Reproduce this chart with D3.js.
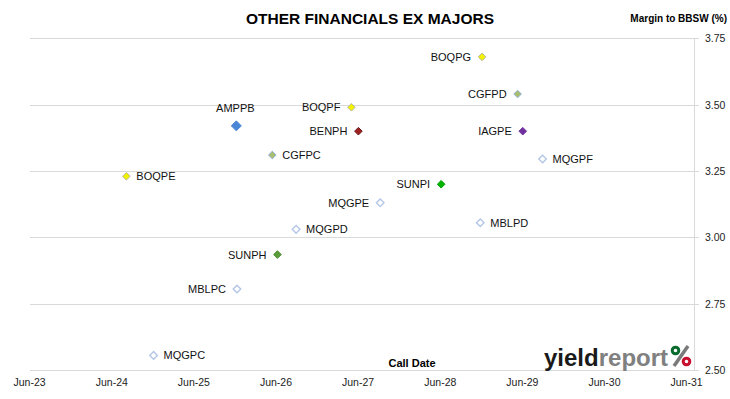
<!DOCTYPE html>
<html>
<head>
<meta charset="utf-8">
<script src="https://cdn.jsdelivr.net/npm/d3@7"></script>
<style>
  html, body { margin: 0; padding: 0; background: #fff; }
  svg { display: block; }
  text { font-family: "Liberation Sans", Arial, sans-serif; }
</style>
</head>
<body>
<svg id="chart" width="730" height="399"></svg>
<script>
// ---- data ----
const securities = ["AMPPB","BOQPE","BOQPF","BOQPG","BENPH","CGFPC","CGFPD","IAGPE","MQGPF","SUNPI","MQGPE","MBLPD","MQGPD","SUNPH","MBLPC","MQGPC"];
const callDates  = ["2025-12-09","2024-08-07","2027-05-05","2028-12-06","2027-06-05","2026-05-18","2029-05-13","2029-06-05","2029-09-01","2028-06-07","2027-09-10","2028-11-28","2026-09-01","2026-06-10","2025-12-12","2024-12-06"];
const margins    = [3.42, 3.23, 3.49, 3.68, 3.40, 3.31, 3.54, 3.40, 3.295, 3.20, 3.13, 3.055, 3.03, 2.935, 2.805, 2.555];
const issuers    = ["AMP","BOQ","BOQ","BOQ","BEN","CGF","CGF","IAG","MQG","SUNI","MQG","MBL","MQG","SUNH","MBL","MQG"];
const labelSide  = ["top","right","left","left","left","right","left","left","right","left","left","right","right","left","left","right"];
const xTickDates = ["2023-06-01","2024-06-01","2025-06-01","2026-06-01","2027-06-01","2028-06-01","2029-06-01","2030-06-01","2031-06-01"];
const yTicks     = [2.50, 2.75, 3.00, 3.25, 3.50, 3.75];

const styles = {
  AMP:  {fill:"#4a86d6", stroke:"#4a86d6", r:5},
  BOQ:  {fill:"#f2f200", stroke:"#b8b8a0", r:3.8},
  BEN:  {fill:"#a02020", stroke:"#6a1a1a", r:3.8},
  CGF:  {fill:"#a9bf6e", stroke:"#8fb0d8", r:3.8},
  IAG:  {fill:"#7030a0", stroke:"#7030a0", r:3.8},
  MQG:  {fill:"#ffffff", stroke:"#b4c6e7", r:3.8},
  MBL:  {fill:"#ffffff", stroke:"#b4c6e7", r:3.8},
  SUNI: {fill:"#00b400", stroke:"#00a000", r:3.8},
  SUNH: {fill:"#5a9c38", stroke:"#4e8a30", r:3.8}
};

(function () {
const parse = d3.timeParse("%Y-%m-%d");
const points = securities.map((s,i)=>({name:s, date:parse(callDates[i]), m:margins[i], iss:issuers[i], side:labelSide[i]}));

const svg = d3.select("#chart");
const pLeft = 30, pRight = 694, pTop = 38.3, pBottom = 370;

const x = d3.scaleTime().domain([parse(xTickDates[0]), parse(xTickDates[xTickDates.length-1])]).range([29, 686]);
const y = d3.scaleLinear().domain([2.5, 3.75]).range([pBottom, pTop]);

// gridlines
svg.append("g").selectAll("line").data(yTicks).join("line")
  .attr("x1", pLeft).attr("x2", pRight + 5)
  .attr("y1", d=>Math.round(y(d))+0.5).attr("y2", d=>Math.round(y(d))+0.5)
  .attr("stroke", "#d9d9d9").attr("stroke-width", 1);

// right axis line
svg.append("line").attr("x1", pRight+0.5).attr("x2", pRight+0.5)
  .attr("y1", pTop).attr("y2", pBottom+0.5).attr("stroke", "#d9d9d9");

// right axis labels
const yAxis = d3.axisRight(y).tickValues(yTicks).tickFormat(d3.format(".2f")).tickSize(0).tickPadding(11);
const ya = svg.append("g").attr("transform", `translate(${pRight},0)`).call(yAxis);
ya.select(".domain").remove();
ya.selectAll("text").attr("font-size", "10.5px").attr("fill", "#222")
  .attr("font-family", "'Liberation Sans', Arial, sans-serif");

// x axis labels
const xAxis = d3.axisBottom(x).tickValues(xTickDates.map(parse)).tickFormat(d3.timeFormat("%b-%y")).tickSize(0).tickPadding(9);
const xa = svg.append("g").attr("transform", `translate(0,${pBottom})`).call(xAxis);
xa.select(".domain").remove();
xa.selectAll("text").attr("font-size", "10.5px").attr("fill", "#222")
  .attr("font-family", "'Liberation Sans', Arial, sans-serif");

// markers
const diamond = r => `M0,${-r}L${r},0L0,${r}L${-r},0Z`;
svg.append("g").selectAll("path").data(points).join("path")
  .attr("transform", d=>`translate(${x(d.date)},${y(d.m)})`)
  .attr("d", d=>diamond(styles[d.iss].r))
  .attr("fill", d=>styles[d.iss].fill)
  .attr("stroke", d=>styles[d.iss].stroke)
  .attr("stroke-width", d=> (d.iss==="MQG"||d.iss==="MBL") ? 1.4 : 1);

// labels
svg.append("g").selectAll("text").data(points).join("text")
  .attr("x", d=> d.side==="left" ? x(d.date)-11 : d.side==="right" ? x(d.date)+10 : x(d.date)-1)
  .attr("y", d=> d.side==="top" ? y(d.m)-14 : y(d.m)+4)
  .attr("text-anchor", d=> d.side==="left" ? "end" : d.side==="right" ? "start" : "middle")
  .attr("font-size", "11px").attr("fill", "#111")
  .text(d=>d.name);

// title
svg.append("text").attr("x", 370).attr("y", 24).attr("text-anchor", "middle")
  .attr("font-size", "15.5px").attr("font-weight", "bold").attr("fill", "#000")
  .text("OTHER FINANCIALS EX MAJORS");

svg.append("text").attr("x", 727).attr("y", 22).attr("text-anchor", "end")
  .attr("font-size", "10px").attr("font-weight", "bold").attr("fill", "#000")
  .text("Margin to BBSW (%)");

svg.append("text").attr("x", 412).attr("y", 367).attr("text-anchor", "middle")
  .attr("font-size", "11px").attr("font-weight", "bold").attr("fill", "#000")
  .text("Call Date");

// logo
const logo = svg.append("text").attr("x", 544).attr("y", 366)
  .attr("font-size", "24px").attr("font-weight", "bold");
logo.append("tspan").attr("fill", "#1a1a1a").text("yield");
logo.append("tspan").attr("fill", "#808080").text("report");
// stylised percent sign
const pg = svg.append("g");
pg.append("line").attr("x1", 688).attr("y1", 346).attr("x2", 674).attr("y2", 366)
  .attr("stroke", "#7a7a7a").attr("stroke-width", 3.5);
pg.append("circle").attr("cx", 675.5).attr("cy", 350.5).attr("r", 3.3)
  .attr("fill", "#ffffff").attr("stroke", "#0a6b2e").attr("stroke-width", 3);
pg.append("circle").attr("cx", 686.5).attr("cy", 361.5).attr("r", 3.3)
  .attr("fill", "#ffffff").attr("stroke", "#c8102e").attr("stroke-width", 3);
})();
</script>
</body>
</html>
